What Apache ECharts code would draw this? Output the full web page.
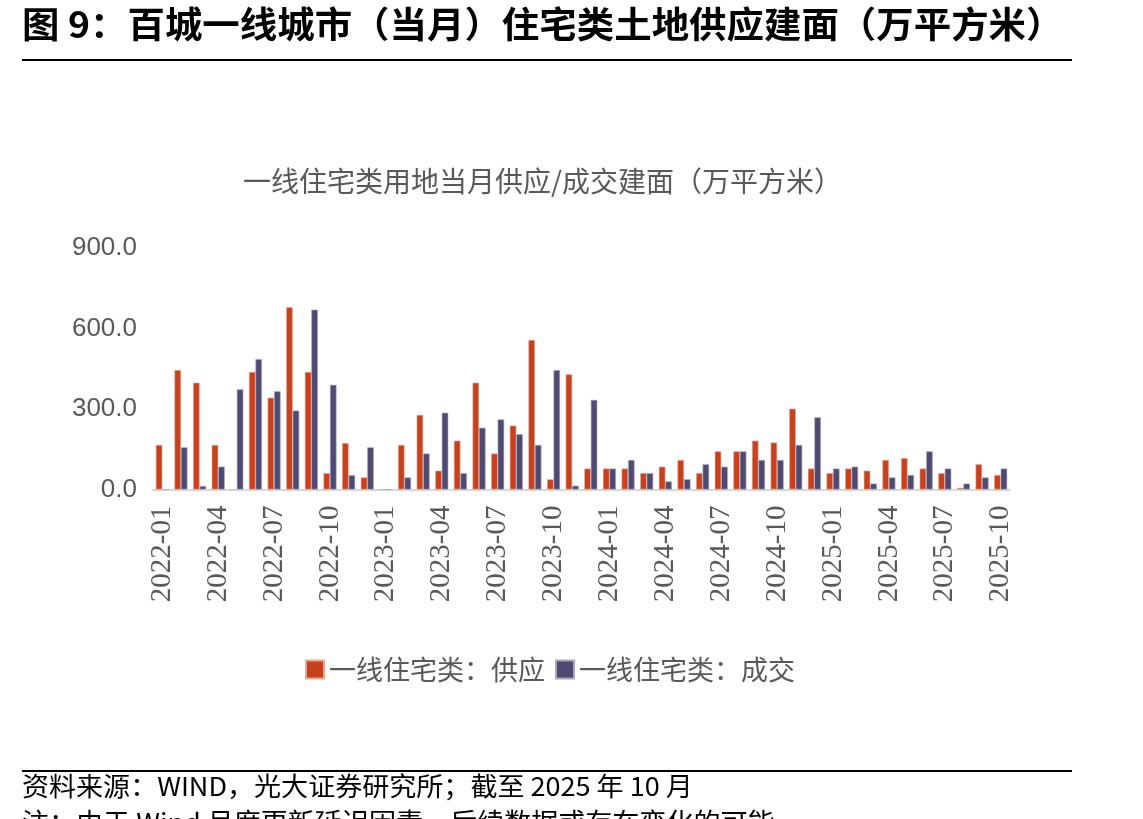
<!DOCTYPE html>
<html><head><meta charset="utf-8">
<script src="https://cdn.jsdelivr.net/npm/echarts@6/dist/echarts.min.js"></script>
<style>html,body{margin:0;padding:0;background:#fff}#c{width:1143px;height:819px}</style>
</head><body><div id="c"></div>
<script>
const categories = [
 '2022-01','2022-02','2022-03','2022-04','2022-05','2022-06','2022-07','2022-08','2022-09','2022-10','2022-11','2022-12',
 '2023-01','2023-02','2023-03','2023-04','2023-05','2023-06','2023-07','2023-08','2023-09','2023-10','2023-11','2023-12',
 '2024-01','2024-02','2024-03','2024-04','2024-05','2024-06','2024-07','2024-08','2024-09','2024-10','2024-11','2024-12',
 '2025-01','2025-02','2025-03','2025-04','2025-05','2025-06','2025-07','2025-08','2025-09','2025-10'];
const supply = [166,445,398,166,0,438,342,679,438,61,173,45,
 0,166,278,70,182,398,134,238,557,38,429,78,
 78,78,61,85,110,61,142,142,182,175,301,78,
 61,78,70,110,117,78,61,6,94,54];
const deal = [0,157,13,85,373,486,366,294,670,390,53,157,
 0,45,134,286,61,230,261,206,166,445,14,334,
 78,110,61,30,38,94,85,142,110,110,166,269,
 78,85,22,45,54,142,78,22,45,78];
const seriesNames = ['一线住宅类：供应','一线住宅类：成交'];
const yTicks = [0,300,600,900];
const headerText = '图 9：百城一线城市（当月）住宅类土地供应建面（万平方米）';
const chartTitle = '一线住宅类用地当月供应/成交建面（万平方米）';
const sourceText = '资料来源：WIND，光大证券研究所；截至 2025 年 10 月';
const noteText = '注：由于 Wind 月度更新延迟因素，后续数据或存在变化的可能';

const cjk = '"Noto Sans CJK SC", "Noto Sans", sans-serif';
const chart = echarts.init(document.getElementById('c'));
chart.setOption({
  animation: false,
  backgroundColor: '#fff',
  title: {
    text: chartTitle, left: 238, top: 162,
    textStyle: {fontFamily: cjk, fontSize: 28, fontWeight: 'normal', color: '#595959'}
  },
  legend: {
    left: 300, top: 651, itemWidth: 18, itemHeight: 18, itemGap: 10,
    icon: 'rect',
    textStyle: {fontFamily: cjk, fontSize: 27, color: '#595959'},
    data: seriesNames
  },
  grid: {left: 153, right: 133, top: 248, bottom: 819 - 489.5},
  xAxis: {
    type: 'category', data: categories,
    axisLine: {lineStyle: {color: '#d9d9d9', width: 2}},
    axisTick: {interval: 2, inside: true, length: 8, lineStyle: {color: '#d9d9d9', width: 2}},
    axisLabel: {interval: 2, rotate: 90, margin: 16, fontFamily: '"Liberation Serif", serif', fontSize: 29, color: '#595959'}
  },
  yAxis: {
    type: 'value', min: 0, max: 900, interval: 300,
    axisLine: {show: false}, axisTick: {show: false}, splitLine: {show: false},
    axisLabel: {margin: 16, fontFamily: '"Liberation Sans", sans-serif', fontSize: 26, color: '#595959',
      formatter: v => yTicks.includes(v) ? v.toFixed(1) : ''}
  },
  series: [
    {name: seriesNames[0], type: 'bar', data: supply, barWidth: 6.5, barGap: '0%',
     itemStyle: {color: '#C8411E', borderColor: '#E8A890', borderWidth: 0.6}},
    {name: seriesNames[1], type: 'bar', data: deal, barWidth: 6.5, barGap: '0%',
     itemStyle: {color: '#4F4A72', borderColor: '#A9A6C0', borderWidth: 0.6}}
  ],
  graphic: [
    {type: 'text', x: 22, y: 6, scaleX: 1.04, style: {text: headerText, font: 'bold 36px "Noto Sans CJK SC"', fill: '#000'}},
    {type: 'rect', shape: {x: 22, y: 59, width: 1050, height: 2}, style: {fill: '#000'}},
    {type: 'rect', shape: {x: 22, y: 770, width: 1050, height: 2}, style: {fill: '#000'}},
    {type: 'text', x: 22, y: 773, scaleX: 1.04, style: {text: sourceText, font: '26px "Noto Sans CJK SC"', fill: '#000'}},
    {type: 'text', x: 22, y: 809, scaleX: 1.04, style: {text: noteText, font: '26px "Noto Sans CJK SC"', fill: '#000'}}
  ]
});
</script></body></html>
